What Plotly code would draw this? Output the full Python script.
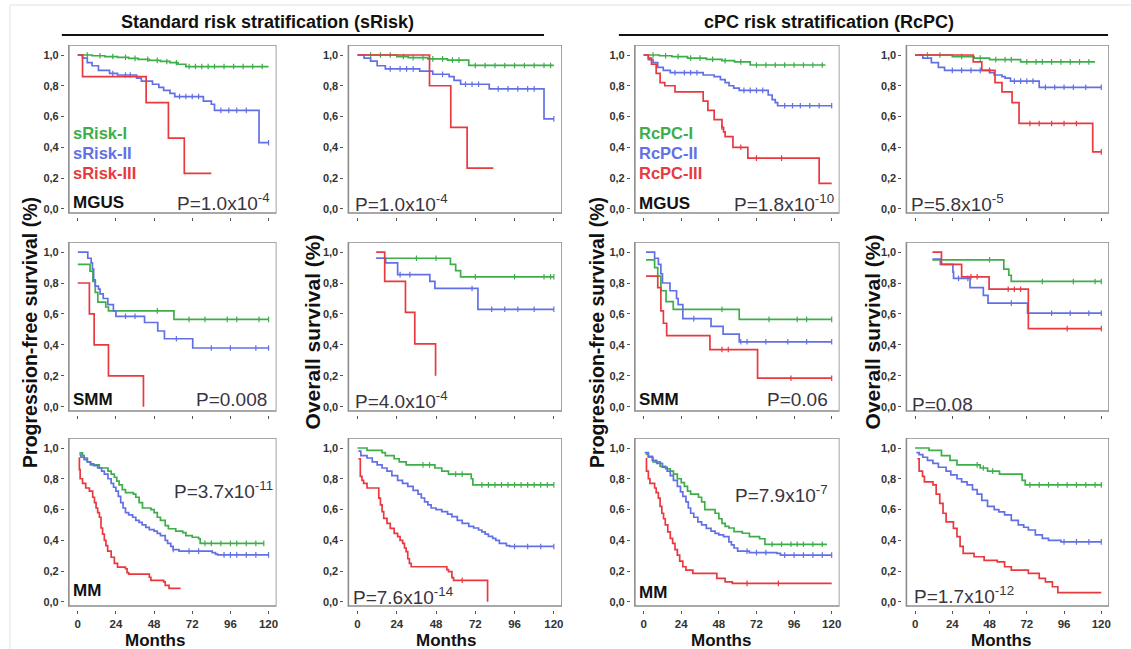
import plotly.graph_objects as go

W, H = 1131, 649
GREEN, BLUE, RED = "#3dae49", "#6270e6", "#e8393f"
FONT = "Liberation Sans, Arial, sans-serif"
TXT = "#222222"
PCOL = "#3a3440"

# ---- Kaplan-Meier step data: (month, survival) after each step ----
# Row 1: MGUS
MGUS_PFS_S_I = [(0, 1.0), (9, 0.995), (17, 0.99), (25, 0.985), (32, 0.978), (38, 0.972), (45, 0.965),
                (52, 0.958), (58, 0.95), (63, 0.94), (68, 0.925)]
MGUS_PFS_S_II = [(0, 1.0), (3, 0.98), (6, 0.95), (9, 0.93), (13, 0.90), (20, 0.88), (25, 0.87), (37, 0.85),
                 (40, 0.83), (47, 0.81), (51, 0.79), (54, 0.77), (58, 0.75), (61, 0.73), (79, 0.70),
                 (84, 0.68), (86, 0.64), (114, 0.43)]
MGUS_PFS_S_III = [(0, 1.0), (3, 0.86), (43, 0.69), (57, 0.46), (67, 0.23)]
MGUS_PFS_S_END = [120, 120, 84]

MGUS_OS_S_I = [(0, 1.0), (24, 0.99), (31, 0.983), (43, 0.975), (55, 0.967), (68, 0.932)]
MGUS_OS_S_II = [(0, 1.0), (4, 0.98), (8, 0.96), (12, 0.93), (17, 0.91), (38, 0.895), (46, 0.875),
                (56, 0.86), (59, 0.835), (63, 0.81), (80.5, 0.78), (114, 0.585)]
MGUS_OS_S_III = [(0, 1.0), (44, 0.80), (57, 0.53), (67, 0.265)]
MGUS_OS_S_END = [120, 120, 83]

MGUS_PFS_R_I = [(0, 1.0), (10, 0.995), (18, 0.99), (28, 0.98), (40, 0.972), (50, 0.963), (58, 0.955),
                (68, 0.935)]
MGUS_PFS_R_II = [(0, 1.0), (3, 0.97), (6, 0.95), (9, 0.92), (12.5, 0.90), (17, 0.885), (38, 0.87),
                 (45, 0.86), (49, 0.84), (52, 0.82), (54.5, 0.80), (57.5, 0.785), (61, 0.77),
                 (79.5, 0.74), (82, 0.71), (84, 0.69), (85.5, 0.67)]
MGUS_PFS_R_III = [(0, 1.0), (3, 0.98), (5, 0.94), (8, 0.88), (10.5, 0.82), (13.5, 0.80), (20, 0.76),
                  (38, 0.70), (41, 0.64), (45, 0.58), (50, 0.53), (51, 0.50), (52, 0.47), (57, 0.40),
                  (66.5, 0.33), (112, 0.165)]
MGUS_PFS_R_END = [116, 120, 120]

MGUS_OS_R_I = [(0, 1.0), (24, 0.99), (38, 0.98), (48, 0.97), (68, 0.955)]
MGUS_OS_R_II = [(0, 1.0), (5, 0.98), (10.5, 0.95), (15, 0.92), (19, 0.90), (48, 0.885), (51, 0.87),
                (56, 0.86), (58, 0.85), (61.5, 0.83), (80, 0.79)]
MGUS_OS_R_III = [(0, 1.0), (37.5, 0.955), (43, 0.90), (51.5, 0.82), (56, 0.76), (62.5, 0.69),
                 (67, 0.555), (114.5, 0.37)]
MGUS_OS_R_END = [116, 120, 120]

# Row 2: SMM
SMM_PFS_S_I = [(0, 0.92), (7.7, 0.877), (9.5, 0.81), (11, 0.74), (12.6, 0.677), (17.6, 0.645),
               (19.3, 0.62), (60.5, 0.565)]
SMM_PFS_S_II = [(0, 1.0), (6.3, 0.96), (8.4, 0.93), (9.2, 0.89), (10, 0.82), (11, 0.78), (13, 0.76),
                (14, 0.73), (16, 0.70), (18.9, 0.66), (22.4, 0.62), (24, 0.585), (42, 0.545),
                (50.3, 0.49), (54.5, 0.44), (72.3, 0.38)]
SMM_PFS_S_III = [(0, 0.80), (7.3, 0.60), (10.3, 0.40), (19.3, 0.20), (41.3, 0.0)]
SMM_PFS_S_END = [120, 120, 41.3]

SMM_OS_S_I = [(11.4, 0.96), (56.8, 0.92), (60, 0.88), (63, 0.84)]
SMM_OS_S_II = [(11.4, 0.96), (17.2, 0.93), (24.5, 0.854), (44.2, 0.81), (47.3, 0.765), (73.6, 0.63)]
SMM_OS_S_III = [(11.4, 1.0), (16.6, 0.81), (29.3, 0.61), (35, 0.407), (47.7, 0.2)]
SMM_OS_S_END = [120, 120, 47.7]

SMM_PFS_R_I = [(1.5, 0.95), (7, 0.90), (9, 0.845), (11, 0.75), (14.3, 0.68), (18.9, 0.63), (61, 0.565)]
SMM_PFS_R_II = [(1.5, 1.0), (7, 0.96), (9.4, 0.92), (11, 0.86), (12, 0.80), (16.8, 0.75), (21, 0.70),
                (22, 0.66), (25, 0.57), (43, 0.52), (50.7, 0.47), (61, 0.42)]
SMM_PFS_R_III = [(1.5, 0.845), (9, 0.77), (11, 0.62), (12.6, 0.54), (14.7, 0.46), (42.3, 0.37),
                 (72.7, 0.185)]
SMM_PFS_R_END = [120, 120, 120]

SMM_OS_R_I = [(11.2, 0.95), (57.2, 0.89), (60.4, 0.85), (62, 0.81)]
SMM_OS_R_II = [(11.2, 0.955), (16.3, 0.92), (24.4, 0.87), (24.8, 0.83), (35.4, 0.77), (44, 0.72),
               (47, 0.67), (72.5, 0.605)]
SMM_OS_R_III = [(11.2, 1.0), (17, 0.92), (30, 0.84), (47.7, 0.76), (73, 0.505)]
SMM_OS_R_END = [120, 120, 120]

# Row 3: MM
MM_PFS_S_I = [(1, 0.968), (3, 0.95), (4, 0.935), (6, 0.91), (8, 0.89), (13.5, 0.87), (19, 0.85),
              (21, 0.83), (23, 0.81), (24.5, 0.785), (26, 0.76), (28, 0.73), (30, 0.71), (35, 0.70),
              (36.5, 0.68), (38.6, 0.645), (40.7, 0.61), (46, 0.60), (48, 0.58), (50, 0.55),
              (52, 0.53), (55, 0.495), (57, 0.475), (61.6, 0.46), (66, 0.45), (68, 0.43), (72, 0.42),
              (76, 0.41), (77, 0.38)]
MM_PFS_S_II = [(1, 0.957), (2, 0.94), (4, 0.925), (6, 0.91), (8, 0.897), (10, 0.885), (12.5, 0.87),
               (15, 0.85), (16.7, 0.83), (19, 0.80), (21, 0.77), (22.5, 0.745), (24, 0.72),
               (25.5, 0.685), (27, 0.645), (28.5, 0.61), (30, 0.58), (32, 0.565), (34.5, 0.55),
               (36.5, 0.53), (38.6, 0.516), (40.5, 0.50), (42.8, 0.484), (45, 0.47), (48, 0.46),
               (50, 0.445), (52, 0.43), (55, 0.40), (56.5, 0.38), (58.5, 0.36), (60, 0.34),
               (63.7, 0.33), (84.5, 0.32), (86.6, 0.31), (88, 0.305)]
MM_PFS_S_III = [(0.5, 0.935), (1, 0.86), (1.5, 0.80), (3, 0.77), (5, 0.74), (7.3, 0.72), (9.4, 0.68),
                (10.5, 0.645), (11.5, 0.61), (12.5, 0.58), (13.6, 0.55), (14.6, 0.48), (15.6, 0.44),
                (16.7, 0.40), (17.7, 0.365), (18.8, 0.33), (21, 0.29), (23, 0.25), (25, 0.226),
                (30, 0.215), (31, 0.19), (32, 0.18), (45, 0.16), (46, 0.14), (54, 0.13), (55, 0.107),
                (57.4, 0.088)]
MM_PFS_S_END = [117, 120, 64.7]

MM_OS_S_I = [(0, 1.0), (5.8, 0.985), (15, 0.97), (17, 0.95), (22.4, 0.93), (25.5, 0.91), (29.7, 0.89),
             (47.3, 0.87), (51.5, 0.85), (55.6, 0.83), (69.5, 0.80), (70.5, 0.76)]
MM_OS_S_II = [(0.5, 0.98), (2, 0.95), (5.8, 0.935), (9, 0.91), (12, 0.89), (15, 0.87), (18, 0.85),
              (21, 0.82), (24.5, 0.79), (27.5, 0.77), (30.7, 0.75), (34, 0.725), (37, 0.70),
              (39, 0.675), (41, 0.65), (43, 0.63), (45, 0.61), (48, 0.60), (51.5, 0.587), (55, 0.57),
              (57.7, 0.554), (61, 0.53), (64, 0.51), (68, 0.49), (71, 0.48), (74, 0.467), (76, 0.455),
              (78, 0.44), (80, 0.425), (82.6, 0.413), (84.5, 0.40), (86.7, 0.38), (91, 0.365),
              (93, 0.36)]
MM_OS_S_III = [(0.5, 0.93), (1.7, 0.815), (2.7, 0.79), (3.7, 0.77), (5.8, 0.74), (13, 0.674), (14, 0.63),
               (15, 0.587), (16, 0.543), (18, 0.51), (20, 0.478), (22.4, 0.445), (24.5, 0.424),
               (26, 0.40), (27.6, 0.38), (28.7, 0.35), (29.7, 0.326), (30.7, 0.28), (31.7, 0.25),
               (32.8, 0.228), (54.6, 0.21), (55.6, 0.196), (57.7, 0.157), (58.7, 0.14), (79.5, 0.0)]
MM_OS_S_END = [120, 120, 79.5]

MM_PFS_R_I = [(1.3, 0.96), (3, 0.94), (6, 0.91), (10.5, 0.88), (14, 0.865), (17, 0.85), (19, 0.83),
              (21.5, 0.80), (24, 0.775), (26, 0.75), (28, 0.72), (30, 0.70), (35, 0.68), (37, 0.65),
              (39, 0.60), (45.6, 0.576), (48, 0.54), (50, 0.51), (52, 0.49), (54.4, 0.48),
              (57.7, 0.456), (63, 0.446), (67.5, 0.424), (74, 0.41), (77.4, 0.374)]
MM_PFS_R_II = [(0.7, 0.97), (3, 0.945), (5.5, 0.92), (8.3, 0.90), (12, 0.875), (15, 0.85), (17, 0.82),
               (19, 0.79), (21.5, 0.75), (23.5, 0.715), (25, 0.685), (27, 0.65), (28.5, 0.61),
               (30, 0.576), (32, 0.55), (34.6, 0.52), (37, 0.50), (40, 0.478), (43, 0.46),
               (45.6, 0.445), (48, 0.435), (51, 0.424), (54.4, 0.39), (56, 0.37), (57.7, 0.35),
               (60, 0.33), (67.5, 0.32), (85, 0.315), (87.3, 0.304)]
MM_PFS_R_III = [(1.3, 0.93), (1.8, 0.85), (3, 0.80), (4, 0.77), (7, 0.74), (8, 0.71), (9.4, 0.674),
                (10.5, 0.62), (11.6, 0.576), (12.7, 0.54), (13.8, 0.50), (15.4, 0.455), (17, 0.413),
                (18.5, 0.38), (20, 0.34), (21.5, 0.304), (23, 0.265), (25, 0.228), (27, 0.206),
                (31.4, 0.185), (46.7, 0.152), (52, 0.13), (56.6, 0.12)]
MM_PFS_R_END = [117, 120, 120]

MM_OS_R_I = [(0, 1.0), (9, 0.985), (17, 0.95), (22.5, 0.92), (27, 0.89), (42, 0.87), (46.7, 0.85),
             (54.4, 0.83), (69, 0.79), (71, 0.76)]
MM_OS_R_II = [(0.8, 0.97), (2.6, 0.957), (5, 0.94), (8, 0.92), (11.5, 0.90), (15, 0.875), (20, 0.85),
              (23, 0.825), (27, 0.80), (30, 0.78), (33.5, 0.76), (37, 0.73), (40, 0.70), (43, 0.66),
              (46.7, 0.62), (51, 0.60), (54, 0.585), (57.7, 0.565), (62, 0.53), (66.5, 0.50),
              (70, 0.485), (73, 0.467), (77.5, 0.435), (82, 0.413), (86, 0.40), (94, 0.39)]
MM_OS_R_III = [(1.5, 0.93), (2.6, 0.85), (4.8, 0.815), (6, 0.78), (11.5, 0.76), (13.6, 0.70),
               (15.9, 0.64), (18, 0.576), (20, 0.52), (24.7, 0.478), (27, 0.424), (29, 0.36),
               (31, 0.315), (38, 0.293), (44.5, 0.27), (53, 0.26), (57.7, 0.228), (62, 0.206),
               (73, 0.185), (80, 0.152), (84, 0.13), (88.5, 0.098), (92, 0.06)]
MM_OS_R_END = [120, 120, 120]

# ---- censoring times (months) per curve: [group I, group II, group III] ----
CENS = {
    1: [[6, 14, 22, 30, 36, 44, 50, 56, 62, 70, 74, 78, 82, 86, 92, 98, 104, 110, 116],
        [22, 30, 33, 64, 68, 72, 76, 90, 95, 100, 106, 120], []],
    2: [[8, 14, 20, 28, 34, 40, 46, 52, 58, 62, 72, 78, 84, 90, 96, 102, 108, 114, 118],
        [20, 26, 30, 34, 52, 66, 70, 74, 86, 92, 98, 104, 108, 120], []],
    3: [[6, 14, 22, 30, 36, 44, 52, 62, 72, 78, 84, 90, 96, 102, 108, 114],
        [20, 26, 30, 34, 64, 68, 72, 76, 90, 95, 100, 106, 112, 120], [50, 62, 72, 88]],
    4: [[8, 16, 30, 42, 52, 58, 62, 72, 78, 82, 88, 94, 100, 106, 112],
        [24, 30, 36, 42, 64, 68, 72, 76, 84, 90, 96, 102, 110, 120], [48, 74, 80, 88, 96, 104, 120]],
    5: [[50, 70, 80, 94, 100, 114, 120], [30, 36, 62, 84, 96, 112, 120], []],
    6: [[36, 48, 72, 96, 114, 118, 120], [26, 32, 70, 82, 90, 98, 108, 120], []],
    7: [[50, 80, 98, 104, 120], [32, 62, 66, 78, 92, 104, 120], [50, 54, 94, 120]],
    8: [[48, 82, 102, 116, 120], [28, 34, 62, 88, 100, 112, 120], [36, 40, 60, 64, 68, 98, 120]],
    9: [[80, 84, 90, 96, 100, 106, 112, 117], [60, 70, 76, 92, 96, 100, 106, 112, 120], []],
    10: [[40, 44, 60, 64, 76, 80, 84, 88, 92, 96, 100, 104, 108, 112, 116, 120],
         [96, 104, 112, 120], [64]],
    11: [[82, 88, 94, 98, 102, 108, 114], [66, 72, 78, 90, 96, 102, 108, 114, 120], [66, 86]],
    12: [[40, 44, 50, 74, 80, 86, 92, 98, 104, 110, 116, 120], [96, 104, 112, 120], []],
}

PANELS = [
    (MGUS_PFS_S_I, MGUS_PFS_S_II, MGUS_PFS_S_III, MGUS_PFS_S_END),
    (MGUS_OS_S_I, MGUS_OS_S_II, MGUS_OS_S_III, MGUS_OS_S_END),
    (MGUS_PFS_R_I, MGUS_PFS_R_II, MGUS_PFS_R_III, MGUS_PFS_R_END),
    (MGUS_OS_R_I, MGUS_OS_R_II, MGUS_OS_R_III, MGUS_OS_R_END),
    (SMM_PFS_S_I, SMM_PFS_S_II, SMM_PFS_S_III, SMM_PFS_S_END),
    (SMM_OS_S_I, SMM_OS_S_II, SMM_OS_S_III, SMM_OS_S_END),
    (SMM_PFS_R_I, SMM_PFS_R_II, SMM_PFS_R_III, SMM_PFS_R_END),
    (SMM_OS_R_I, SMM_OS_R_II, SMM_OS_R_III, SMM_OS_R_END),
    (MM_PFS_S_I, MM_PFS_S_II, MM_PFS_S_III, MM_PFS_S_END),
    (MM_OS_S_I, MM_OS_S_II, MM_OS_S_III, MM_OS_S_END),
    (MM_PFS_R_I, MM_PFS_R_II, MM_PFS_R_III, MM_PFS_R_END),
    (MM_OS_R_I, MM_OS_R_II, MM_OS_R_III, MM_OS_R_END),
]

# p-values: (panel, text, x, y, anchor)
P_LABELS = [
    (1, "P=1.0x10<sup>-4</sup>", 122, 0.045, "right"),
    (2, "P=1.0x10<sup>-4</sup>", -2.5, 0.035, "left"),
    (3, "P=1.8x10<sup>-10</sup>", 123, 0.04, "right"),
    (4, "P=5.8x10<sup>-5</sup>", -4, 0.035, "left"),
    (5, "P=0.008", 120, 0.045, "right"),
    (6, "P=4.0x10<sup>-4</sup>", -3, 0.045, "left"),
    (7, "P=0.06", 119, 0.045, "right"),
    (8, "P=0.08", -3.5, 0.015, "left"),
    (9, "P=3.7x10<sup>-11</sup>", 124, 0.73, "right"),
    (10, "P=7.6x10<sup>-14</sup>", -4, 0.04, "left"),
    (11, "P=7.9x10<sup>-7</sup>", 119, 0.70, "right"),
    (12, "P=1.7x10<sup>-12</sup>", -2, 0.045, "left"),
]
STAGE_LABELS = [(1, "MGUS", 0.04), (3, "MGUS", 0.035), (5, "SMM", 0.045), (7, "SMM", 0.045),
                (9, "MM", 0.075), (11, "MM", 0.06)]
GROUP_NAMES_S = ["sRisk-I", "sRisk-II", "sRisk-III"]
GROUP_NAMES_R = ["RcPC-I", "RcPC-II", "RcPC-III"]
GROUP_Y = [0.49, 0.36, 0.235]

Y_TICKS = [0, 0.2, 0.4, 0.6, 0.8, 1.0]
Y_TICKTEXT = ["0,0", "0,2", "0,4", "0,6", "0,8", "1,0"]
X_TICKS = [0, 24, 48, 72, 96, 120]

# ---- panel geometry (pixels) ----
COL_L = [69, 349, 636, 908]
COL_R = [277, 563, 841, 1111]
ROW_T = [45, 242, 438]
ROW_B = [213, 411, 606]
MONTHS_CX = [155, 447, 722, 1003]
X_FRAME = (-5.6, 125.0)
Y_FRAME = (-0.027, 1.065)
GAP = 4


def km_xy(steps, end):
    xs = [t for t, _ in steps] + [end]
    ys = [s for _, s in steps] + [steps[-1][1]]
    return xs, ys


def surv_at(steps, t):
    s = steps[0][1]
    for tt, ss in steps:
        if tt <= t:
            s = ss
    return s


def axis_names(idx):
    return ("x" if idx == 1 else f"x{idx}"), ("y" if idx == 1 else f"y{idx}")


fig = go.Figure()
layout = dict(
    width=W, height=H, margin=dict(l=0, r=0, t=0, b=0),
    paper_bgcolor="white", plot_bgcolor="white", showlegend=False,
    font=dict(family=FONT, color=TXT),
)
shapes, annotations = [], []
colors = [GREEN, BLUE, RED]

for r in range(3):
    for c in range(4):
        idx = r * 4 + c + 1
        L, R, T, B = COL_L[c], COL_R[c], ROW_T[r], ROW_B[r]
        xspan = X_FRAME[1] - X_FRAME[0]
        yspan = Y_FRAME[1] - Y_FRAME[0]
        xr = [X_FRAME[0] - GAP * xspan / (R - L), X_FRAME[1]]
        yr = [Y_FRAME[0] - GAP * yspan / (B - T), Y_FRAME[1]]
        xname, yname = axis_names(idx)
        layout["xaxis" if idx == 1 else f"xaxis{idx}"] = dict(
            domain=[(L - GAP) / W, R / W], range=xr, anchor=yname,
            showgrid=False, zeroline=False, showline=False,
            ticks="outside", ticklen=3, tickwidth=1, tickcolor="#555",
            tickvals=X_TICKS, ticktext=[str(v) for v in X_TICKS],
            showticklabels=(r == 2),
            tickfont=dict(family=FONT, size=11.5, color="#333", weight="bold"),
            fixedrange=True,
        )
        layout["yaxis" if idx == 1 else f"yaxis{idx}"] = dict(
            domain=[1 - (B + GAP) / H, 1 - T / H], range=yr, anchor=xname,
            showgrid=False, zeroline=False, showline=False,
            ticks="outside", ticklen=3, tickwidth=1, tickcolor="#555",
            tickvals=Y_TICKS, ticktext=Y_TICKTEXT,
            tickfont=dict(family=FONT, size=11, color="#333", weight="bold"),
            fixedrange=True,
        )
        # panel frame
        shapes.append(dict(type="rect", xref=xname, yref=yname,
                           x0=X_FRAME[0], x1=X_FRAME[1], y0=Y_FRAME[0], y1=Y_FRAME[1],
                           line=dict(color="#8c8c8c", width=1.6), layer="below"))
        g1, g2, g3, ends = PANELS[idx - 1]
        for k, (steps, end) in enumerate(zip((g1, g2, g3), ends)):
            xs, ys = km_xy(steps, end)
            fig.add_trace(go.Scatter(x=xs, y=ys, mode="lines", line_shape="hv",
                                     line=dict(color=colors[k], width=1.7),
                                     xaxis=xname, yaxis=yname, hoverinfo="skip"))
            cens = CENS[idx][k]
            if cens:
                fig.add_trace(go.Scatter(
                    x=cens, y=[surv_at(steps, t) for t in cens], mode="markers",
                    marker=dict(symbol="line-ns-open", size=4, color=colors[k],
                                line=dict(color=colors[k], width=1.2)),
                    xaxis=xname, yaxis=yname, hoverinfo="skip"))

# p-value annotations
for idx, text, x, y, anchor in P_LABELS:
    xname, yname = axis_names(idx)
    annotations.append(dict(xref=xname, yref=yname, x=x, y=y, text=text, showarrow=False,
                            xanchor=anchor, yanchor="middle",
                            font=dict(family=FONT, size=19, color=PCOL)))

# disease stage labels
for idx, text, y in STAGE_LABELS:
    xname, yname = axis_names(idx)
    annotations.append(dict(xref=xname, yref=yname, x=-4.5, y=y, text=f"<b>{text}</b>",
                            showarrow=False, xanchor="left", yanchor="middle",
                            font=dict(family=FONT, size=17, color="#111")))

# group labels inside the first PFS panel of each stratification
for idx, names in ((1, GROUP_NAMES_S), (3, GROUP_NAMES_R)):
    xname, yname = axis_names(idx)
    for name, col, y in zip(names, colors, GROUP_Y):
        annotations.append(dict(xref=xname, yref=yname, x=-4.5, y=y, text=f"<b>{name}</b>",
                                showarrow=False, xanchor="left", yanchor="middle",
                                font=dict(family=FONT, size=16.5, color=col)))

# section titles with underline
for text, cx, x0, x1 in (("Standard risk stratification (sRisk)", 268, 62, 545),
                         ("cPC risk stratification (RcPC)", 830, 620, 1110)):
    annotations.append(dict(xref="paper", yref="paper", x=cx / W, y=1 - 22 / H,
                            text=f"<b>{text}</b>", showarrow=False,
                            xanchor="center", yanchor="middle",
                            font=dict(family=FONT, size=18, color="#111")))
    shapes.append(dict(type="line", xref="paper", yref="paper",
                       x0=x0 / W, x1=x1 / W, y0=1 - 35 / H, y1=1 - 35 / H,
                       line=dict(color="#111", width=2)))

# y-axis titles
for text, px, size in (("Progression-free survival (%)", 30, 19.5), ("Overall survival (%)", 313, 21),
                       ("Progression-free survival (%)", 598, 19.5), ("Overall survival (%)", 874, 21)):
    annotations.append(dict(xref="paper", yref="paper", x=px / W, y=1 - 332 / H,
                            text=f"<b>{text}</b>", showarrow=False, textangle=-90,
                            xanchor="center", yanchor="middle",
                            font=dict(family=FONT, size=size, color="#111")))

# x-axis titles
for cx in MONTHS_CX:
    annotations.append(dict(xref="paper", yref="paper", x=cx / W, y=1 - 640 / H,
                            text="<b>Months</b>", showarrow=False,
                            xanchor="center", yanchor="middle",
                            font=dict(family=FONT, size=17, color="#111")))

# faint outer border of the figure
shapes.append(dict(type="rect", xref="paper", yref="paper",
                   x0=10 / W, x1=1.2, y0=-0.2, y1=1 - 5 / H,
                   line=dict(color="#e2e2e2", width=1), layer="below"))

layout["shapes"] = shapes
layout["annotations"] = annotations
fig.update_layout(**layout)
fig.write_html("out.html")
